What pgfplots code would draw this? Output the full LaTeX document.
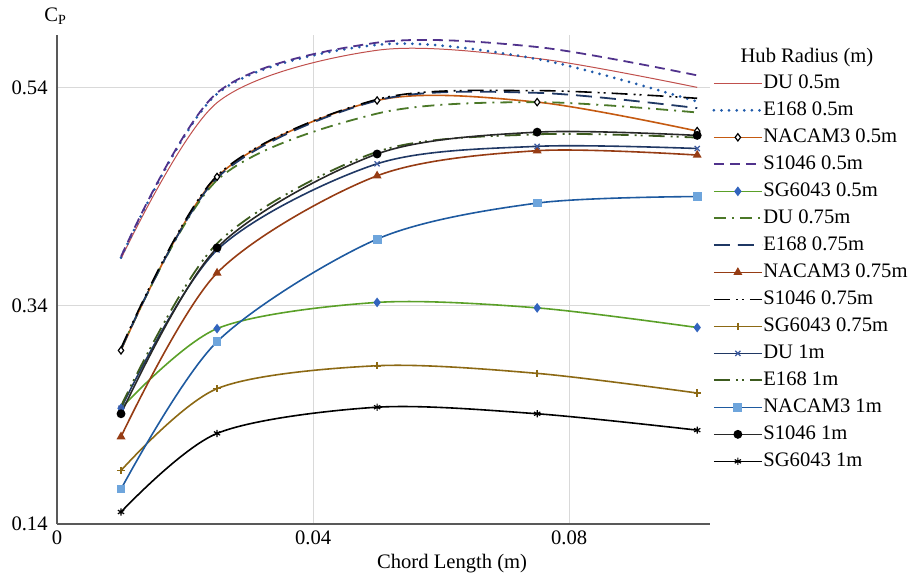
\documentclass[border=0pt]{standalone}
\usepackage{fontspec}
\setmainfont{Liberation Serif}
\usepackage{pgfplots}
\pgfplotsset{compat=1.18}
\definecolor{cDU}{RGB}{192,80,77}
\definecolor{cEfive}{RGB}{31,90,170}
\definecolor{cNfive}{RGB}{197,90,17}
\definecolor{cSfive}{RGB}{80,50,140}
\definecolor{cGline}{RGB}{90,160,40}
\definecolor{cGmark}{RGB}{50,100,190}
\definecolor{cDUsev}{RGB}{75,120,40}
\definecolor{cEsev}{RGB}{31,56,100}
\definecolor{cNsev}{RGB}{150,60,20}
\definecolor{cGsev}{RGB}{140,105,20}
\definecolor{cDUone}{RGB}{32,56,100}
\definecolor{cDUonem}{RGB}{60,90,160}
\definecolor{cEone}{RGB}{60,90,30}
\definecolor{cNACline}{RGB}{30,90,160}
\definecolor{cNACmark}{RGB}{110,165,220}
\definecolor{cSone}{RGB}{40,40,40}
\definecolor{cgrid}{RGB}{217,217,217}
\definecolor{caxis}{RGB}{89,89,89}
\begin{document}
\begin{tikzpicture}
\useasboundingbox (0,0) rectangle (454pt,289pt);
\begin{axis}[
  at={(28.5pt,27pt)}, anchor=south west,
  scale only axis, width=326.5pt, height=244.5pt,
  xmin=0, xmax=0.102, ymin=0.14, ymax=0.588,
  xtick={0,0.04,0.08}, xticklabels={0,0.04,0.08},
  ytick={0.14,0.34,0.54}, yticklabels={0.14,0.34,0.54},
  axis lines*=left,
  axis line style={-, color=caxis, line width=0.8pt},
  major tick length=0pt,
  xmajorgrids, ymajorgrids,
  grid style={cgrid, line width=0.5pt},
  font=\fontsize{10.3}{12}\selectfont,
  ticklabel style={font=\fontsize{10.3}{12}\selectfont},
  yticklabel style={inner sep=0pt, xshift=-4.5pt},
  xticklabel style={inner sep=0pt, yshift=-3pt},
  xlabel={Chord Length (m)},
  x label style={at={(rel axis cs:0.605,0)}, anchor=base, yshift=-22pt},
  legend style={at={(rel axis cs:1.003,0.922)}, anchor=north west, draw=none, fill=none,
    inner sep=0pt, font=\fontsize{10.3}{12}\selectfont,
    nodes={inner sep=0pt, text height=7.5pt, text depth=2.3pt},
    row sep=3.7pt},
  legend cell align=left,
  /tikz/every even column/.append style={column sep=3pt},
  legend image code/.code={\draw[mark repeat=2,mark phase=2,#1] plot coordinates {(0pt,0pt) (12pt,0pt) (24pt,0pt)};},
  mark size=1.8pt,
  clip=false,
]
% 0.5 m
\addplot[cDU, line width=0.5pt, smooth, no markers] coordinates {(0.01,0.383) (0.025,0.526) (0.05,0.574) (0.075,0.5665) (0.1,0.540)};
\addlegendentry{DU 0.5m}
\addplot[cEfive, line width=1.5pt, line cap=round, dash pattern=on 0pt off 3.8pt, smooth, no markers] coordinates {(0.01,0.384) (0.025,0.534) (0.05,0.579) (0.075,0.566) (0.1,0.527)};
\addlegendentry{E168 0.5m}
\addplot[cNfive, line width=0.8pt, smooth, mark=diamond*, mark options={solid, fill=white, draw=black, line width=0.6pt}] coordinates {(0.01,0.299) (0.025,0.458) (0.05,0.528) (0.075,0.5265) (0.1,0.500)};
\addlegendentry{NACAM3 0.5m}
\addplot[cSfive, line width=0.9pt, dash pattern=on 5pt off 3pt, smooth, no markers] coordinates {(0.01,0.385) (0.025,0.535) (0.05,0.581) (0.075,0.577) (0.1,0.551)};
\addlegendentry{S1046 0.5m}
\addplot[cGline, line width=0.8pt, smooth, mark=diamond*, mark options={solid, fill=cGmark, draw=cGmark}] coordinates {(0.01,0.246) (0.025,0.319) (0.05,0.343) (0.075,0.338) (0.1,0.320)};
\addlegendentry{SG6043 0.5m}
% 0.75 m
\addplot[cDUsev, line width=0.9pt, dash pattern=on 6pt off 3pt on 1pt off 3pt, smooth, no markers] coordinates {(0.01,0.300) (0.025,0.455) (0.05,0.516) (0.075,0.5265) (0.1,0.517)};
\addlegendentry{DU 0.75m}
\addplot[cEsev, line width=0.9pt, dash pattern=on 8pt off 4pt, smooth, no markers] coordinates {(0.01,0.300) (0.025,0.457) (0.05,0.528) (0.075,0.535) (0.1,0.521)};
\addlegendentry{E168 0.75m}
\addplot[cNsev, line width=0.8pt, smooth, mark=triangle*, mark options={solid, fill=cNsev, draw=cNsev}] coordinates {(0.01,0.220) (0.025,0.370) (0.05,0.459) (0.075,0.482) (0.1,0.478)};
\addlegendentry{NACAM3 0.75m}
\addplot[black, line width=0.8pt, dash pattern=on 8pt off 3pt on 1pt off 2pt on 1pt off 3pt, smooth, no markers] coordinates {(0.01,0.301) (0.025,0.459) (0.05,0.529) (0.075,0.537) (0.1,0.530)};
\addlegendentry{S1046 0.75m}
\addplot[cGsev, line width=0.8pt, smooth, mark=+, mark options={solid, draw=cGsev, line width=0.8pt}] coordinates {(0.01,0.189) (0.025,0.264) (0.05,0.285) (0.075,0.278) (0.1,0.260)};
\addlegendentry{SG6043 0.75m}
% 1 m
\addplot[cDUone, line width=0.8pt, smooth, mark=x, mark options={solid, draw=cDUonem, line width=0.6pt}] coordinates {(0.01,0.246) (0.025,0.391) (0.05,0.470) (0.075,0.486) (0.1,0.484)};
\addlegendentry{DU 1m}
\addplot[cEone, line width=0.9pt, dash pattern=on 8pt off 3pt on 1pt off 2pt on 1pt off 3pt, smooth, no markers] coordinates {(0.01,0.248) (0.025,0.397) (0.05,0.481) (0.075,0.497) (0.1,0.494)};
\addlegendentry{E168 1m}
\addplot[cNACline, line width=0.8pt, smooth, mark=square*, mark options={solid, fill=cNACmark, draw=cNACmark}] coordinates {(0.01,0.172) (0.025,0.307) (0.05,0.401) (0.075,0.434) (0.1,0.440)};
\addlegendentry{NACAM3 1m}
\addplot[cSone, line width=0.8pt, smooth, mark=*, mark options={solid, fill=black, draw=black}] coordinates {(0.01,0.241) (0.025,0.393) (0.05,0.479) (0.075,0.499) (0.1,0.496)};
\addlegendentry{S1046 1m}
\addplot[black, line width=0.8pt, smooth, mark=asterisk, mark options={solid, draw=black, line width=0.6pt}] coordinates {(0.01,0.151) (0.025,0.223) (0.05,0.247) (0.075,0.241) (0.1,0.226)};
\addlegendentry{SG6043 1m}
\node[anchor=base] at (rel axis cs:-0.003,1) [yshift=6.5pt] {C\raisebox{-0.25ex}{\fontsize{7}{8}\selectfont P}};
\node[anchor=base] at (rel axis cs:1.1485,0.955) [yshift=-3pt] {Hub Radius (m)};
\end{axis}
\end{tikzpicture}
\end{document}
